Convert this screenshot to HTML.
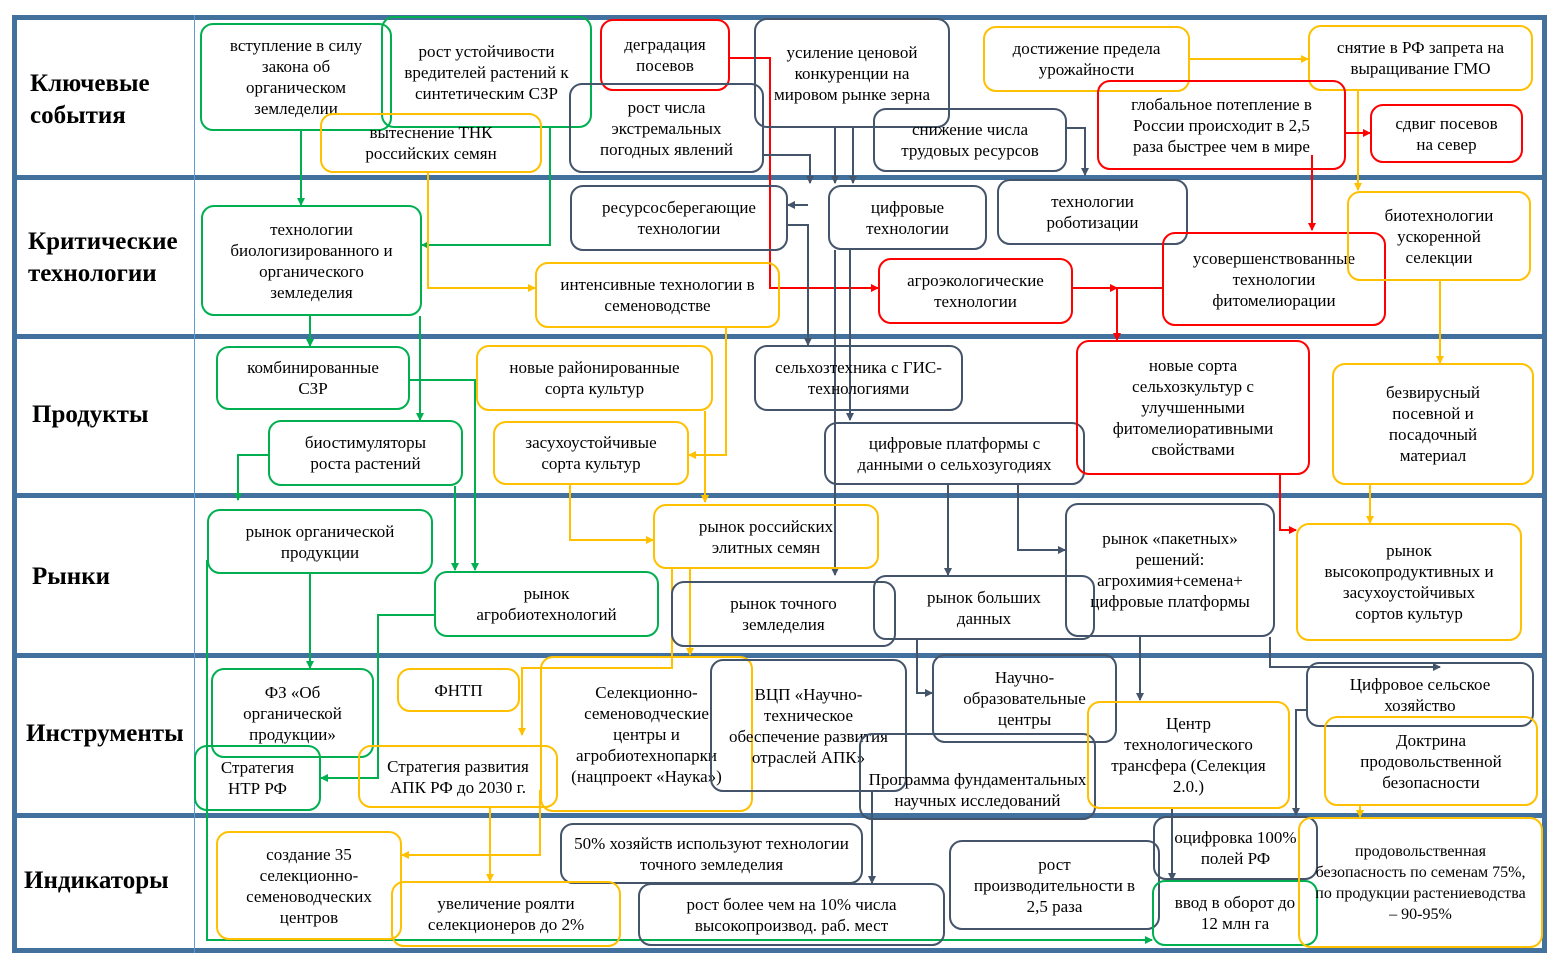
<!DOCTYPE html>
<html><head><meta charset="utf-8"><style>
body{margin:0;width:1558px;height:960px;background:#fff;position:relative;overflow:hidden;font-family:"Liberation Serif",serif;}
.b{position:absolute;box-sizing:border-box;border:2px solid;border-radius:13px;display:flex;align-items:center;justify-content:center;text-align:center;font-size:17px;line-height:21px;color:#000;padding:0 14px;}
.g{border-color:#00b050}.y{border-color:#ffc000}.r{border-color:#ff0000}.d{border-color:#44546a}
.l{position:absolute;left:28px;font-weight:bold;font-size:25px;line-height:32px;}
.h{position:absolute;left:12px;width:1535px;height:5px;background:#41719c}
svg{position:absolute;left:0;top:0}
</style></head><body>
<div class="h" style="top:15px"></div>
<div class="h" style="top:175px"></div>
<div class="h" style="top:334px"></div>
<div class="h" style="top:493px"></div>
<div class="h" style="top:653px"></div>
<div class="h" style="top:813px"></div>
<div class="h" style="top:948px"></div>
<div style="position:absolute;left:12px;top:15px;width:5px;height:938px;background:#41719c"></div>
<div style="position:absolute;left:1542px;top:15px;width:5px;height:938px;background:#41719c"></div>
<div style="position:absolute;left:194px;top:15px;width:1px;height:938px;background:#5b9bd5"></div>

<div class="l" style="top:68px;left:30px">Ключевые<br>события</div>
<div class="l" style="top:226px">Критические<br>технологии</div>
<div class="l" style="top:399px;left:32px">Продукты</div>
<div class="l" style="top:561px;left:32px">Рынки</div>
<div class="l" style="top:718px;left:26px">Инструменты</div>
<div class="l" style="top:865px;left:24px">Индикаторы</div>

<svg width="1558" height="960" viewBox="0 0 1558 960" fill="none" stroke-width="2">
<defs>
<marker id="ag" markerWidth="8" markerHeight="8" refX="7" refY="4" orient="auto" markerUnits="userSpaceOnUse"><path d="M0,0L8,4L0,8z" fill="#00b050" stroke="none"/></marker>
<marker id="ay" markerWidth="8" markerHeight="8" refX="7" refY="4" orient="auto" markerUnits="userSpaceOnUse"><path d="M0,0L8,4L0,8z" fill="#ffc000" stroke="none"/></marker>
<marker id="ar" markerWidth="8" markerHeight="8" refX="7" refY="4" orient="auto" markerUnits="userSpaceOnUse"><path d="M0,0L8,4L0,8z" fill="#ff0000" stroke="none"/></marker>
<marker id="ad" markerWidth="8" markerHeight="8" refX="7" refY="4" orient="auto" markerUnits="userSpaceOnUse"><path d="M0,0L8,4L0,8z" fill="#44546a" stroke="none"/></marker>
</defs>
<g stroke="#00b050" marker-end="url(#ag)">
<path d="M301,131V205"/><path d="M550,128V245H422"/><path d="M310,316V346"/><path d="M420,316V420"/>
<path d="M268,455H238V500"/><path d="M410,380H475V570"/><path d="M455,486V570"/><path d="M310,574V668"/>
<path d="M207,560V940H1152"/><path d="M434,615H378V778H321"/>
</g>
<g stroke="#ffc000" marker-end="url(#ay)">
<path d="M428,173V288H535"/><path d="M726,328V455H689"/><path d="M705,411V502"/><path d="M570,485V540H653"/>
<path d="M690,569V655"/><path d="M672,569V668H522V735"/><path d="M490,808V881"/><path d="M540,790V855H402"/>
<path d="M1190,59H1308"/><path d="M1358,91V190"/><path d="M1440,281V363"/><path d="M1370,485V523"/><path d="M1360,806V817"/>
</g>
<g stroke="#ff0000" marker-end="url(#ar)">
<path d="M730,58H770V288H878"/><path d="M1346,133H1370"/><path d="M1312,155V230"/>
<path d="M1162,288H1117V340"/><path d="M1073,288H1117"/><path d="M1280,475V530H1296"/>
</g>
<g stroke="#44546a" marker-end="url(#ad)">
<path d="M764,155H810V183"/><path d="M853,128V183"/><path d="M835,128V183"/><path d="M1067,128H1085V175"/>
<path d="M788,225H808V345"/><path d="M808,205H788"/><path d="M850,250V420"/><path d="M835,250V575"/>
<path d="M948,485V575"/><path d="M1018,485V550H1065"/><path d="M917,640V693H932"/><path d="M1140,637V700"/>
<path d="M1270,637V667H1440"/><path d="M1306,710H1296V815"/><path d="M872,792V883"/><path d="M1172,808V880"/>
</g>
</svg>

<div class="b g" style="left:200px;top:23px;width:192px;height:108px;padding:0 20px">вступление в силу закона об органическом земледелии</div>
<div class="b g" style="left:381px;top:16px;width:211px;height:112px">рост устойчивости вредителей растений к синтетическим СЗР</div>
<div class="b y" style="left:320px;top:113px;width:222px;height:60px;padding:0 30px">вытеснение ТНК российских семян</div>
<div class="b r" style="left:600px;top:19px;width:130px;height:72px">деградация посевов</div>
<div class="b d" style="left:569px;top:83px;width:195px;height:90px">рост числа экстремальных погодных явлений</div>
<div class="b d" style="left:754px;top:18px;width:196px;height:110px">усиление ценовой конкуренции на мировом рынке зерна</div>
<div class="b d" style="left:873px;top:108px;width:194px;height:64px;padding:0 20px">снижение числа трудовых ресурсов</div>
<div class="b y" style="left:983px;top:26px;width:207px;height:66px">достижение предела урожайности</div>
<div class="b y" style="left:1308px;top:25px;width:225px;height:66px">снятие в РФ запрета на выращивание ГМО</div>
<div class="b r" style="left:1097px;top:80px;width:249px;height:90px;padding:0 18px">глобальное потепление в России происходит в 2,5 раза быстрее чем в мире</div>
<div class="b r" style="left:1370px;top:104px;width:153px;height:59px">сдвиг посевов на север</div>

<div class="b g" style="left:201px;top:205px;width:221px;height:111px;padding:0 22px">технологии биологизированного и органического земледелия</div>
<div class="b d" style="left:570px;top:185px;width:218px;height:66px">ресурсосберегающие технологии</div>
<div class="b y" style="left:535px;top:262px;width:245px;height:66px">интенсивные технологии в семеноводстве</div>
<div class="b d" style="left:828px;top:185px;width:159px;height:65px">цифровые технологии</div>
<div class="b d" style="left:997px;top:179px;width:191px;height:66px;padding:0 24px">технологии роботизации</div>
<div class="b r" style="left:878px;top:258px;width:195px;height:66px">агроэкологические технологии</div>
<div class="b r" style="left:1162px;top:232px;width:224px;height:94px">усовершенствованные технологии фитомелиорации</div>
<div class="b y" style="left:1347px;top:191px;width:184px;height:90px;padding:0 20px">биотехнологии ускоренной селекции</div>

<div class="b g" style="left:216px;top:346px;width:194px;height:64px;padding:0 20px">комбинированные СЗР</div>
<div class="b g" style="left:268px;top:420px;width:195px;height:66px">биостимуляторы роста растений</div>
<div class="b y" style="left:476px;top:345px;width:237px;height:66px">новые районированные сорта культур</div>
<div class="b y" style="left:493px;top:421px;width:196px;height:64px;padding:0 20px">засухоустойчивые сорта культур</div>
<div class="b d" style="left:754px;top:345px;width:209px;height:66px">сельхозтехника с ГИС-технологиями</div>
<div class="b d" style="left:824px;top:422px;width:261px;height:63px;padding:0 20px">цифровые платформы с данными о сельхозугодиях</div>
<div class="b r" style="left:1076px;top:340px;width:234px;height:135px">новые сорта сельхозкультур с улучшенными фитомелиоративными свойствами</div>
<div class="b y" style="left:1332px;top:363px;width:202px;height:122px;padding:0 26px">безвирусный посевной и посадочный материал</div>

<div class="b g" style="left:207px;top:509px;width:226px;height:65px">рынок органической продукции</div>
<div class="b y" style="left:653px;top:504px;width:226px;height:65px">рынок российских элитных семян</div>
<div class="b g" style="left:434px;top:571px;width:225px;height:66px;padding:0 40px">рынок агробиотехнологий</div>
<div class="b d" style="left:671px;top:581px;width:225px;height:66px;padding:0 40px">рынок точного земледелия</div>
<div class="b d" style="left:873px;top:575px;width:222px;height:65px;padding:0 40px">рынок больших данных</div>
<div class="b d" style="left:1065px;top:503px;width:210px;height:134px;padding:0 18px">рынок «пакетных» решений: агрохимия+семена+ цифровые платформы</div>
<div class="b y" style="left:1296px;top:523px;width:226px;height:118px;padding:0 20px">рынок высокопродуктивных и засухоустойчивых сортов культур</div>

<div class="b g" style="left:211px;top:668px;width:163px;height:90px">ФЗ «Об органической продукции»</div>
<div class="b g" style="left:194px;top:745px;width:127px;height:66px">Стратегия НТР РФ</div>
<div class="b y" style="left:397px;top:668px;width:123px;height:44px">ФНТП</div>
<div class="b y" style="left:358px;top:745px;width:200px;height:63px">Стратегия развития АПК РФ до 2030 г.</div>
<div class="b y" style="left:540px;top:656px;width:213px;height:156px;padding:0 16px">Селекционно-семеноводческие центры и агробиотехнопарки (нацпроект «Наука»)</div>
<div class="b d" style="left:710px;top:659px;width:197px;height:133px;padding:0 8px">ВЦП «Научно-техническое обеспечение развития отраслей АПК»</div>
<div class="b d" style="left:932px;top:654px;width:185px;height:89px">Научно-образовательные центры</div>
<div class="b d" style="left:859px;top:733px;width:237px;height:87px;padding:26px 6px 0">Программа фундаментальных научных исследований</div>
<div class="b y" style="left:1087px;top:701px;width:203px;height:108px;padding:0 20px">Центр технологического трансфера (Селекция 2.0.)</div>
<div class="b d" style="left:1306px;top:662px;width:228px;height:65px;padding:0 30px">Цифровое сельское хозяйство</div>
<div class="b y" style="left:1324px;top:716px;width:214px;height:90px">Доктрина продовольственной безопасности</div>

<div class="b y" style="left:216px;top:831px;width:186px;height:109px">создание 35 селекционно-семеноводческих центров</div>
<div class="b d" style="left:560px;top:823px;width:303px;height:61px;padding:0 8px">50% хозяйств используют технологии точного земледелия</div>
<div class="b y" style="left:391px;top:881px;width:230px;height:66px;padding:0 20px">увеличение роялти селекционеров до 2%</div>
<div class="b d" style="left:638px;top:883px;width:307px;height:63px;padding:0 30px">рост более чем на 10% числа высокопроизвод. раб. мест</div>
<div class="b d" style="left:949px;top:840px;width:211px;height:90px;padding:0 20px">рост производительности в 2,5 раза</div>
<div class="b d" style="left:1153px;top:816px;width:165px;height:64px;padding:0 8px">оцифровка 100% полей РФ</div>
<div class="b g" style="left:1152px;top:880px;width:166px;height:66px;padding:0 20px">ввод в оборот до 12 млн га</div>
<div class="b y" style="left:1298px;top:817px;width:245px;height:131px;font-size:16px;padding:0 12px">продовольственная безопасность по семенам 75%, по продукции растениеводства – 90-95%</div>
</body></html>
